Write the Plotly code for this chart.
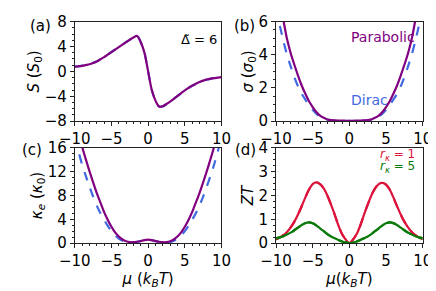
import plotly.graph_objects as go

mu = [-10, -9.5, -9, -8.5, -8, -7.5, -7, -6.5, -6, -5.5, -5, -4.5, -4, -3.5, -3, -2.5, -2, -1.5, -1, -0.5,
      0, 0.5, 1, 1.5, 2, 2.5, 3, 3.5, 4, 4.5, 5, 5.5, 6, 6.5, 7, 7.5, 8, 8.5, 9, 9.5, 10]

S_par = [0.75, 0.82, 0.9, 1.02, 1.15, 1.35, 1.6, 1.95, 2.3, 2.7, 3.1, 3.5, 3.9, 4.3, 4.7, 5.1, 5.45, 5.7, 4.7, 3.0,
         0.0, -3.0, -4.7, -5.65, -5.6, -5.25, -4.85, -4.4, -3.95, -3.5, -3.05, -2.65, -2.3, -2.0, -1.7, -1.48, -1.3, -1.17, -1.07, -1.0, -0.93]
S_dir = [0.77, 0.84, 0.92, 1.04, 1.17, 1.37, 1.62, 1.97, 2.32, 2.72, 3.12, 3.52, 3.92, 4.32, 4.72, 5.12, 5.47, 5.7, 4.7, 3.0,
         0.0, -3.0, -4.7, -5.65, -5.62, -5.27, -4.87, -4.42, -3.97, -3.52, -3.07, -2.67, -2.32, -2.02, -1.72, -1.5, -1.32, -1.19, -1.09, -1.02, -0.95]

sigma_par = [8.4, 7.2, 6.1, 4.95, 4.1, 3.4, 2.75, 2.15, 1.65, 1.2, 0.85, 0.55, 0.33, 0.2, 0.1, 0.06, 0.04, 0.03, 0.03, 0.02,
             0.02, 0.02, 0.03, 0.03, 0.04, 0.06, 0.1, 0.2, 0.33, 0.55, 0.85, 1.2, 1.65, 2.15, 2.75, 3.4, 4.1, 4.95, 6.1, 7.2, 8.4]
sigma_dir = [6.8, 5.8, 4.85, 4.0, 3.3, 2.65, 2.1, 1.65, 1.3, 0.98, 0.68, 0.45, 0.28, 0.17, 0.09, 0.05, 0.03, 0.02, 0.02, 0.01,
             0.01, 0.01, 0.02, 0.02, 0.03, 0.05, 0.09, 0.17, 0.28, 0.45, 0.68, 0.98, 1.3, 1.65, 2.1, 2.65, 3.3, 4.0, 4.85, 5.8, 6.8]

kappa_par = [21.0, 18.6, 16.2, 14.1, 12.1, 10.2, 8.4, 6.8, 5.2, 3.9, 2.75, 1.8, 1.1, 0.6, 0.3, 0.17, 0.15, 0.22, 0.35, 0.5,
             0.58, 0.5, 0.35, 0.22, 0.15, 0.17, 0.3, 0.6, 1.1, 1.8, 2.75, 3.9, 5.2, 6.8, 8.4, 10.2, 12.1, 14.1, 16.2, 18.6, 21.0]
kappa_dir = [17.8, 15.4, 13.2, 11.3, 9.5, 7.8, 6.3, 5.0, 3.9, 2.9, 2.0, 1.3, 0.75, 0.38, 0.18, 0.12, 0.13, 0.2, 0.32, 0.47,
             0.55, 0.47, 0.32, 0.2, 0.13, 0.12, 0.18, 0.38, 0.75, 1.3, 2.0, 2.9, 3.9, 5.0, 6.3, 7.8, 9.5, 11.3, 13.2, 15.4, 17.8]

ZT_r1 = [0.16, 0.23, 0.33, 0.47, 0.66, 0.9, 1.2, 1.55, 1.92, 2.25, 2.48, 2.55, 2.48, 2.3, 2.0, 1.62, 1.2, 0.75, 0.38, 0.15,
         0.0, 0.15, 0.38, 0.75, 1.2, 1.62, 2.0, 2.3, 2.48, 2.53, 2.46, 2.25, 1.92, 1.55, 1.2, 0.9, 0.66, 0.47, 0.33, 0.23, 0.16]
ZT_r5 = [0.2, 0.24, 0.29, 0.36, 0.44, 0.54, 0.65, 0.76, 0.84, 0.87, 0.83, 0.74, 0.62, 0.5, 0.38, 0.28, 0.2, 0.13, 0.07, 0.03,
         0.0, 0.03, 0.07, 0.13, 0.2, 0.28, 0.38, 0.5, 0.62, 0.74, 0.83, 0.87, 0.84, 0.76, 0.65, 0.54, 0.44, 0.36, 0.29, 0.24, 0.2]

PURPLE = "#800080"
BLUE = "#4169e1"
RED = "#dc143c"
GREEN = "#0a7a0a"
FONT = "DejaVu Sans"

W, H = 436, 291
fig = go.Figure()

def tr(y, color, dash, xa, ya, width=2.2):
    fig.add_trace(go.Scatter(x=mu, y=y, mode="lines", line=dict(color=color, width=width, dash=dash, shape="spline", smoothing=0.8),
                             xaxis=xa, yaxis=ya, showlegend=False, hoverinfo="skip"))

tr(S_dir, BLUE, "dash", "x", "y")
tr(S_par, PURPLE, "solid", "x", "y")
tr(sigma_dir, BLUE, "dash", "x2", "y2")
tr(sigma_par, PURPLE, "solid", "x2", "y2")
tr(kappa_dir, BLUE, "dash", "x3", "y3")
tr(kappa_par, PURPLE, "solid", "x3", "y3")
tr(ZT_r1, RED, "solid", "x4", "y4")
tr(ZT_r1, RED, "dash", "x4", "y4")
tr(ZT_r5, GREEN, "solid", "x4", "y4")
tr(ZT_r5, GREEN, "dash", "x4", "y4")

xl = [54 / W, 210 / W]
xr = [268 / W, 424 / W]
yt = [1 - 111 / H, 1 - 5 / H]
yb = [1 - 241 / H, 1 - 139.5 / H]

def xax(dom, anchor, title=None):
    d = dict(domain=dom, anchor=anchor, range=[-10, 10], tickvals=[-10, -5, 0, 5, 10],
             ticks="outside", ticklen=4, tickcolor="#222", showline=True, linecolor="#222", linewidth=1,
             mirror=True, showgrid=False, zeroline=False,
             tickfont=dict(family=FONT, size=15, color="black"),
             minor=dict(dtick=1, tick0=0, ticks="outside", ticklen=2, tickcolor="#222", showgrid=False))
    if title:
        d["title"] = dict(text=title, font=dict(family=FONT, size=15, color="black"), standoff=2)
    return d

def yax(dom, anchor, rng, major, minor, title):
    return dict(domain=dom, anchor=anchor, range=rng, dtick=major, tick0=0,
                ticks="outside", ticklen=4, tickcolor="#222", showline=True, linecolor="#222", linewidth=1,
                mirror=True, showgrid=False, zeroline=False,
                tickfont=dict(family=FONT, size=15, color="black"),
                minor=dict(dtick=minor, tick0=0, ticks="outside", ticklen=2, tickcolor="#222", showgrid=False),
                title=dict(text=title, font=dict(family=FONT, size=15, color="black"), standoff=1))

fig.update_layout(
    width=W, height=H, margin=dict(l=0, r=0, t=0, b=0),
    paper_bgcolor="white", plot_bgcolor="white", showlegend=False,
    xaxis=xax(xl, "y"),
    yaxis=yax(yt, "x", [-8, 8], 4, 1, "<i>S</i> (<i>S</i><sub>0</sub>)"),
    xaxis2=xax(xr, "y2"),
    yaxis2=yax(yt, "x2", [0, 6], 2, 0.5, "<i>σ</i> (<i>σ</i><sub>0</sub>)"),
    xaxis3=xax(xl, "y3", "<i>μ</i> (<i>k</i><sub><i>B</i></sub><i>T</i>)"),
    yaxis3=yax(yb, "x3", [0, 16], 4, 1, "<i>κ</i><sub><i>e</i></sub> (<i>κ</i><sub>0</sub>)"),
    xaxis4=xax(xr, "y4", "<i>μ</i>(<i>k</i><sub><i>B</i></sub><i>T</i>)"),
    yaxis4=yax(yb, "x4", [0, 4], 1, 0.25, "<i>ZT</i>"),
)

ann = []
def label(txt, px, py, size=14, color="black", xanchor="center"):
    ann.append(dict(text=txt, x=px / W, y=1 - py / H, xref="paper", yref="paper", showarrow=False,
                    xanchor=xanchor, yanchor="middle", font=dict(family=FONT, size=size, color=color)))

label("(a)", 18, 10, size=15)
label("(b)", 235, 10, size=15)
label("(c)", 8, 142, size=15)
label("(d)", 236, 142, size=15)
label("Δ̃ = 6", 186, 24, size=13)
label("Parabolic", 346, 21, size=14, color=PURPLE, xanchor="left")
label("Dirac", 346, 89, size=14, color=BLUE, xanchor="left")
label("<i>r</i><sub><i>κ</i></sub> = 1", 397, 147, size=12, color=RED)
label("<i>r</i><sub><i>κ</i></sub> = 5", 397, 160, size=12, color=GREEN)
fig.update_layout(annotations=ann)

fig.write_html("out.html")
